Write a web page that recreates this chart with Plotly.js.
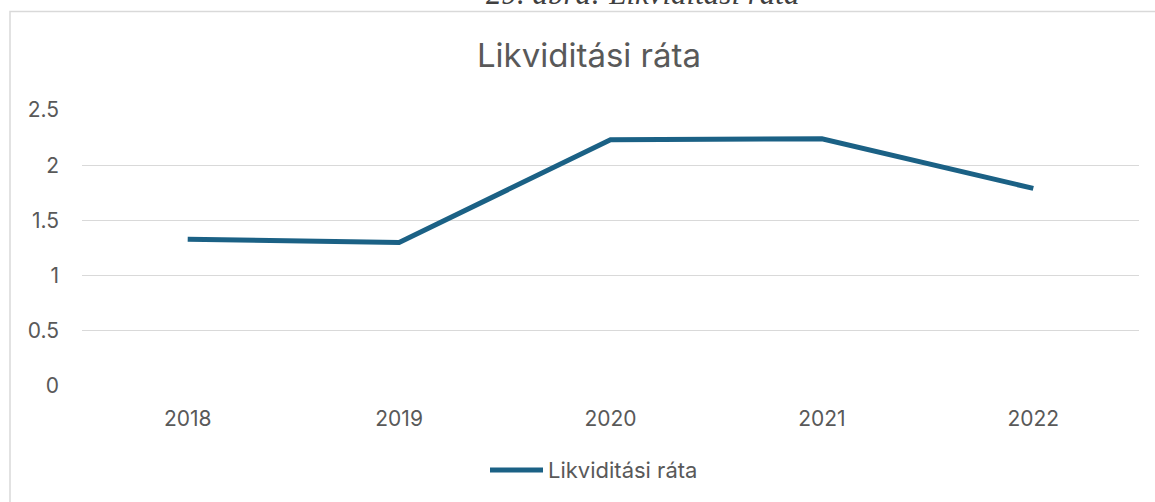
<!DOCTYPE html>
<html>
<head>
<meta charset="utf-8">
<script src="https://cdn.plot.ly/plotly-3.0.1.min.js"></script>
<style>
html,body{margin:0;padding:0;background:#fff;}
#chart{width:1155px;height:502px;}
</style>
</head>
<body>
<div id="chart"></div>
<script>
var years = ['2018', '2019', '2020', '2021', '2022'];
var liquidityRatio = [1.33, 1.30, 2.23, 2.24, 1.79];
var seriesName = 'Likviditási ráta';
var chartTitle = 'Likviditási ráta';
var captionText = '29. ábra: Likviditási ráta';
var yTickValues = [0, 0.5, 1, 1.5, 2, 2.5];
var yTickLabels = ['0', '0.5', '1', '1.5', '2', '2.5'];

var lineColor = '#1b6185';
var textColor = '#595959';
var fontFam = 'Inter, "Open Sans", Arial, sans-serif';

var trace = {
  x: years,
  y: liquidityRatio,
  type: 'scatter',
  mode: 'lines',
  name: seriesName,
  line: {color: lineColor, width: 5, shape: 'linear'},
  showlegend: false,
  hoverinfo: 'x+y'
};

// plot area in pixels: left 82, right 1139, top 110, bottom 386
var L = 82, R = 1139, T = 110, B = 386;
function px(xp){ return (xp - L) / (R - L); }
function py(yp){ return (B - yp) / (B - T); }

var layout = {
  width: 1155, height: 502,
  margin: {l: L, r: 1155 - R, t: T, b: 502 - B, pad: 0},
  paper_bgcolor: '#ffffff',
  plot_bgcolor: '#ffffff',
  font: {family: fontFam, color: textColor, size: 21},
  title: {
    text: chartTitle,
    font: {family: fontFam, size: 33, color: textColor},
    xref: 'paper', x: px(589), xanchor: 'center',
    yref: 'paper', y: py(54), yanchor: 'middle'
  },
  xaxis: {
    type: 'category',
    range: [-0.5, years.length - 0.5],
    showgrid: false,
    zeroline: false,
    showline: false,
    ticks: '',
    ticklabelstandoff: 18,
    tickfont: {family: fontFam, size: 21, color: textColor},
    fixedrange: true
  },
  yaxis: {
    range: [0, 2.5],
    tickmode: 'array',
    tickvals: yTickValues,
    ticktext: yTickLabels,
    showgrid: true,
    gridcolor: '#d9d9d9',
    gridwidth: 1.3,
    zeroline: false,
    showline: false,
    ticks: '',
    ticklabelstandoff: 22,
    tickfont: {family: fontFam, size: 21, color: textColor},
    fixedrange: true
  },
  shapes: [
    {type: 'rect', xref: 'paper', yref: 'paper',
     x0: px(10), x1: px(1200), y0: py(560), y1: py(11.5),
     line: {color: '#d9d9d9', width: 1.5}, fillcolor: 'rgba(0,0,0,0)', layer: 'below'},
    {type: 'line', xref: 'paper', yref: 'paper',
     x0: px(490), x1: px(543), y0: py(470), y1: py(470),
     line: {color: lineColor, width: 5}}
  ],
  annotations: [
    {text: captionText, xref: 'paper', yref: 'paper',
     x: px(642), y: py(13), xanchor: 'center', yanchor: 'bottom',
     showarrow: false,
     font: {family: '"Liberation Serif", "Times New Roman", serif', size: 31, color: '#404040', style: 'italic'}},
    {text: seriesName, xref: 'paper', yref: 'paper',
     x: px(546), y: py(470), xanchor: 'left', yanchor: 'middle',
     showarrow: false,
     font: {family: fontFam, size: 22, color: textColor}}
  ]
};

Plotly.newPlot('chart', [trace], layout, {displayModeBar: false, staticPlot: true});
</script>
</body>
</html>
